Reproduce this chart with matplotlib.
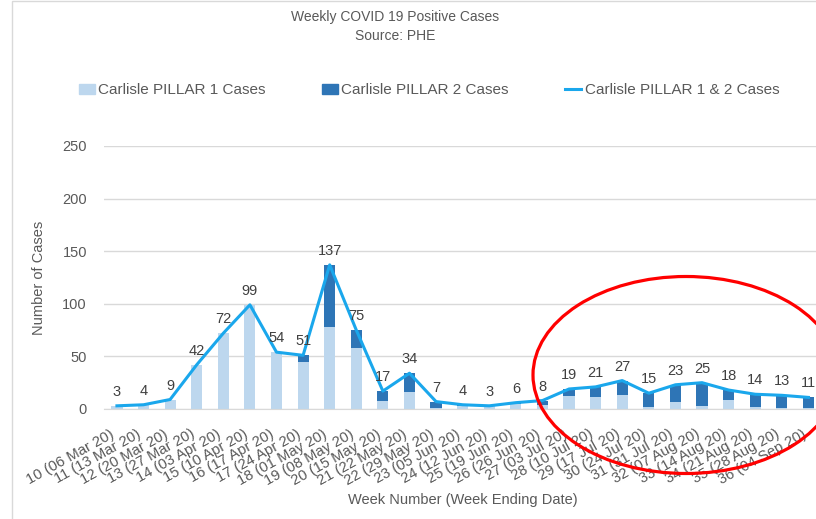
import matplotlib
matplotlib.use("Agg")
import matplotlib.pyplot as plt
from matplotlib.patches import Patch, Ellipse, Rectangle
from matplotlib.lines import Line2D

plt.rcParams['font.family'] = ['Liberation Sans', 'DejaVu Sans']

weeks = ["10 (06 Mar 20)", "11 (13 Mar 20)", "12 (20 Mar 20)", "13 (27 Mar 20)",
         "14 (03 Apr 20)", "15 (10 Apr 20)", "16 (17 Apr 20)", "17 (24 Apr 20)",
         "18 (01 May 20)", "19 (08 May 20)", "20 (15 May 20)", "21 (22 May 20)",
         "22 (29 May 20)", "23 (05 Jun 20)", "24 (12 Jun 20)", "25 (19 Jun 20)",
         "26 (26 Jun 20)", "27 (03 Jul 20)", "28 (10 Jul 20)", "29 (17 Jul 20)",
         "30 (24 Jul 20)", "31 (31 Jul 20)", "32 (07 Aug 20)", "33 (14 Aug 20)",
         "34 (21 Aug 20)", "35 (28 Aug 20)", "36 (04 Sep 20)"]
pillar1 = [3, 4, 9, 42, 72, 99, 54, 45, 78, 58, 8, 16, 1, 3, 3, 5, 4, 12, 11, 13, 2, 7, 3, 9, 2, 1, 1]
pillar2 = [0, 0, 0, 0, 0, 0, 0, 6, 59, 17, 9, 18, 6, 1, 0, 1, 4, 7, 10, 14, 13, 16, 22, 9, 12, 12, 10]
total = [3, 4, 9, 42, 72, 99, 54, 51, 137, 75, 17, 34, 7, 4, 3, 6, 8, 19, 21, 27, 15, 23, 25, 18, 14, 13, 11]

c1 = '#BDD7EE'
c2 = '#2E75B6'
cl = '#1AA7EC'
txt = '#595959'

fig = plt.figure(figsize=(8.16, 5.19), dpi=100)
ax = fig.add_axes([0.127, 0.212, 0.880, 0.5067])

x = list(range(len(weeks)))
ax.bar(x, pillar1, width=0.42, color=c1, zorder=2)
ax.bar(x, pillar2, width=0.42, bottom=pillar1, color=c2, zorder=2)
ax.plot(x, total, color=cl, lw=2.2, zorder=3)
for i, v in zip(x, total):
    ax.annotate(str(v), (i, v), xytext=(0, 5), textcoords='offset points',
                ha='center', va='bottom', fontsize=10.5, color='#404040', zorder=4)

ax.set_xlim(-0.5, len(weeks) - 0.5)
ax.set_ylim(0, 250)
ax.set_yticks([0, 50, 100, 150, 200, 250])
ax.yaxis.grid(True, color='#D9D9D9', lw=1)
ax.set_axisbelow(True)
for s in ['top', 'right', 'left']:
    ax.spines[s].set_visible(False)
ax.spines['bottom'].set_color('#D9D9D9')
ax.tick_params(axis='y', length=0, pad=12, labelsize=10.5, labelcolor=txt)
ax.tick_params(axis='x', length=0, pad=13, labelsize=10.6, labelcolor=txt)
ax.set_xticks(x)
ax.set_xticklabels(weeks, rotation=29, ha='right')
ax.set_ylabel('Number of Cases', fontsize=10.5, color=txt, labelpad=12)
ax.set_xlabel('Week Number (Week Ending Date)', fontsize=10.5, color=txt, labelpad=4)

fig.text(0.484, 0.967, 'Weekly COVID 19 Positive Cases', ha='center', va='center',
         fontsize=10, color=txt)
fig.text(0.484, 0.930, 'Source: PHE', ha='center', va='center', fontsize=10, color=txt)

handles = [Patch(color=c1), Patch(color=c2), Line2D([0], [0], color=cl, lw=2.2)]
labels = ['Carlisle PILLAR 1 Cases', 'Carlisle PILLAR 2 Cases', 'Carlisle PILLAR 1 & 2 Cases']
fig.legend(handles, labels, loc='center', bbox_to_anchor=(0.526, 0.826), ncol=3,
           frameon=False, fontsize=11, labelcolor=txt, handlelength=1.0,
           handletextpad=0.25, columnspacing=3.7)

fig.patches.append(Rectangle((12 / 816, -0.1), 1.2, 1.098, transform=fig.transFigure,
                             fill=False, edgecolor='#D9D9D9', lw=1))
fig.patches.append(Ellipse((686 / 816, 1 - 375 / 519), 306 / 816, 197 / 519,
                           transform=fig.transFigure, fill=False, edgecolor='#FF0000',
                           lw=2.3, zorder=10))

fig.savefig('out.png', dpi=100)
